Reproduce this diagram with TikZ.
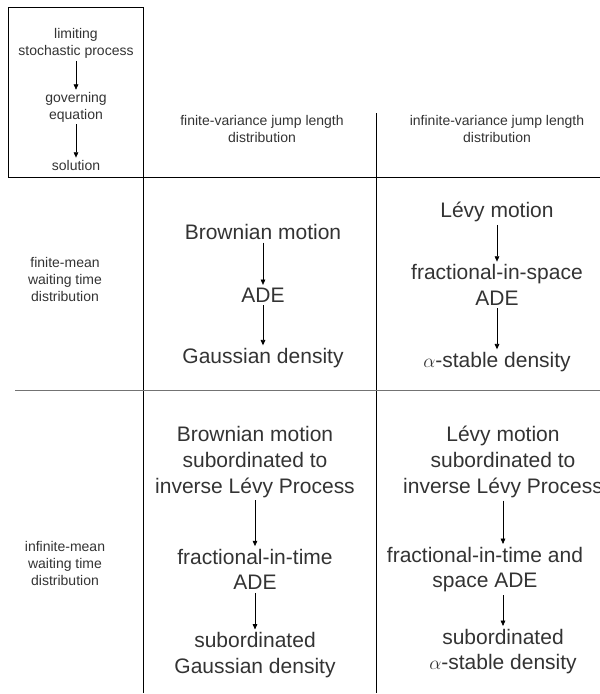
\documentclass[tikz,border=0pt]{standalone}
\usepackage{fontspec}
\setmainfont{Liberation Sans}
\usetikzlibrary{arrows.meta}

\begin{document}
\begin{tikzpicture}[x=0.75pt, y=-0.75pt, text=black!80,
			small/.style={font=\fontsize{10.5}{12.75}\selectfont, align=center, inner sep=1.5pt},
			big/.style={font=\fontsize{15.75}{19.3}\selectfont, align=center, inner sep=2pt},
			flow/.style={-{Triangle[length=4pt,width=3.5pt]}, line width=0.5pt},
			rule/.style={line width=0.7pt}]
			\useasboundingbox (0,0) rectangle (600,694);
			% table lines
			\draw[rule] (8,7) rectangle (143,177);
			\draw[rule] (143,177) -- (600,177);
			\draw[rule] (143,177) -- (143,693);
			\draw[rule] (376,113) -- (376,693);
			\draw[rule, black!55] (15,390) -- (600,390);
			% legend box
			\node[small] (limit) at (76,43.5) {limiting\\stochastic process};
			\node[small] (goveq) at (76,107) {governing\\equation};
			\node[small] (soln) at (76,165) {solution};
			\draw[flow] (limit) -- (goveq);
			\draw[flow] (goveq) -- (soln);
			% headers
			\node[small] (finvar) at (262,128.5) {finite-variance jump length\\distribution};
			\node[small] (infvar) at (497,128.5) {infinite-variance jump length\\distribution};
			\node[small] (finmean) at (65,279) {finite-mean\\waiting time\\distribution};
			\node[small] (infmean) at (65,563) {infinite-mean\\waiting time\\distribution};
			% finite mean, finite variance
			\node[big] (bm) at (263,232) {Brownian motion};
			\node[big] (ade) at (263,295) {ADE};
			\node[big] (gauss) at (263,358) {Gaussian density};
			\draw[flow] (bm) -- (ade);
			\draw[flow] (ade) -- (gauss);
			% finite mean, infinite variance
			\node[big] (levy) at (497,212) {Lévy motion};
			\node[big] (fsade) at (497,285) {fractional-in-space\\ADE};
			\node[big] (stable) at (497,362) {$\alpha$-stable density};
			\draw[flow] (levy) -- (fsade);
			\draw[flow] (fsade) -- (stable);
			% infinite mean, finite variance
			\node[big] (bmsub) at (255,462) {Brownian motion\\subordinated to\\inverse Lévy Process};
			\node[big] (ftade) at (255,569.5) {fractional-in-time\\ADE};
			\node[big] (sgauss) at (255,655) {subordinated\\Gaussian density};
			\draw[flow] (bmsub) -- (ftade);
			\draw[flow] (ftade) -- (sgauss);
			% infinite mean, infinite variance
			\node[big] (levysub) at (503,462) {Lévy motion\\subordinated to\\inverse Lévy Process};
			\node[big] (ftsade) at (485,569.5) {fractional-in-time and\\space ADE};
			\node[big] (sstable) at (503,651.5) {subordinated\\$\alpha$-stable density};
			\draw[flow] (levysub) -- (levysub.south |- ftsade.north);
			\draw[flow] (levysub.south |- ftsade.south) -- (sstable);
\end{tikzpicture}
\end{document}
